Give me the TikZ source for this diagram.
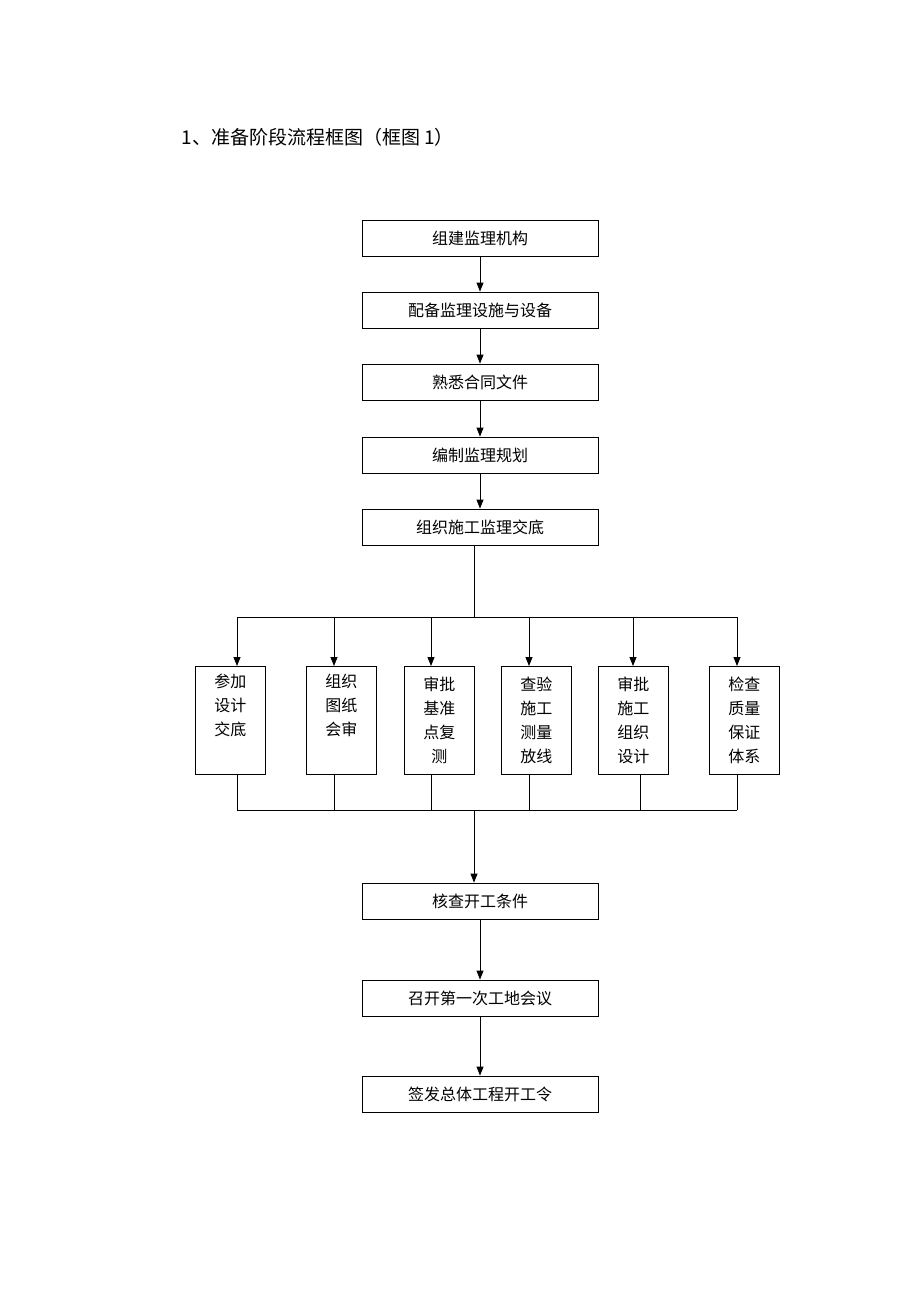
\documentclass[tikz,border=0pt]{standalone}
\usepackage{fontspec}
\setmainfont{Liberation Serif}
\newfontfamily\cjk{Noto Sans CJK SC}
\usetikzlibrary{arrows.meta,positioning}

\tikzset{
  mainbox/.style={draw, line width=0.8pt, minimum width=236pt, minimum height=36pt, inner sep=0pt, font=\cjk\fontsize{16}{18}\selectfont},
  subbox/.style={draw, line width=0.8pt, minimum width=70pt, minimum height=108pt, inner sep=0pt, align=center, anchor=north west, font=\cjk\fontsize{16}{24}\selectfont},
  flow/.style={line width=0.8pt, -{Triangle[length=9pt,width=7pt]}},
  link/.style={line width=0.8pt}
}

\begin{document}
\begin{tikzpicture}[x=1pt,y=-1pt]
\useasboundingbox (0,0) rectangle (920,1302);

\node[anchor=west, font=\cjk\fontsize{19}{22}\selectfont] (title) at (178,137) {1、准备阶段流程框图（框图 1）};

% main chain
\node[mainbox] (b1) at (480,238) {组建监理机构};
\node[mainbox] (b2) at (480,310) {配备监理设施与设备};
\node[mainbox] (b3) at (480,382) {熟悉合同文件};
\node[mainbox] (b4) at (480,455) {编制监理规划};
\node[mainbox] (b5) at (480,527) {组织施工监理交底};
\node[mainbox] (b6) at (480,901) {核查开工条件};
\node[mainbox] (b7) at (480,998) {召开第一次工地会议};
\node[mainbox] (b8) at (480,1094) {签发总体工程开工令};

\draw[flow] (b1) -- (b2);
\draw[flow] (b2) -- (b3);
\draw[flow] (b3) -- (b4);
\draw[flow] (b4) -- (b5);
\draw[flow] (b6) -- (b7);
\draw[flow] (b7) -- (b8);

% branch boxes
\node[subbox] (s1) at (195,666) {参加\\设计\\交底\\\strut};
\node[subbox] (s2) at (306,666) {组织\\图纸\\会审\\\strut};
\node[subbox] (s3) at (404,666) {审批\\基准\\点复\\测};
\node[subbox] (s4) at (501,666) {查验\\施工\\测量\\放线};
\node[subbox] (s5) at (598,666) {审批\\施工\\组织\\设计};
\node[subbox] (s6) at (709,666) {检查\\质量\\保证\\体系};

% buses
\coordinate (top) at (474,617);
\coordinate (bot) at (474,810);
\draw[link] (b5.south -| top) -- (top);
\draw[link] (237,617) -- (737,617);
\draw[link] (237,810) -- (737,810);
\foreach \n/\xa/\xb in {1/237/237, 2/334/334, 3/431/431, 4/529/529, 5/633/640, 6/737/737} {
  \draw[flow] (\xa,617) -- (\xa,666);
  \draw[link] (\xb,774) -- (\xb,810);
}
\draw[flow] (bot) -- (b6.north -| bot);
\end{tikzpicture}
\end{document}
